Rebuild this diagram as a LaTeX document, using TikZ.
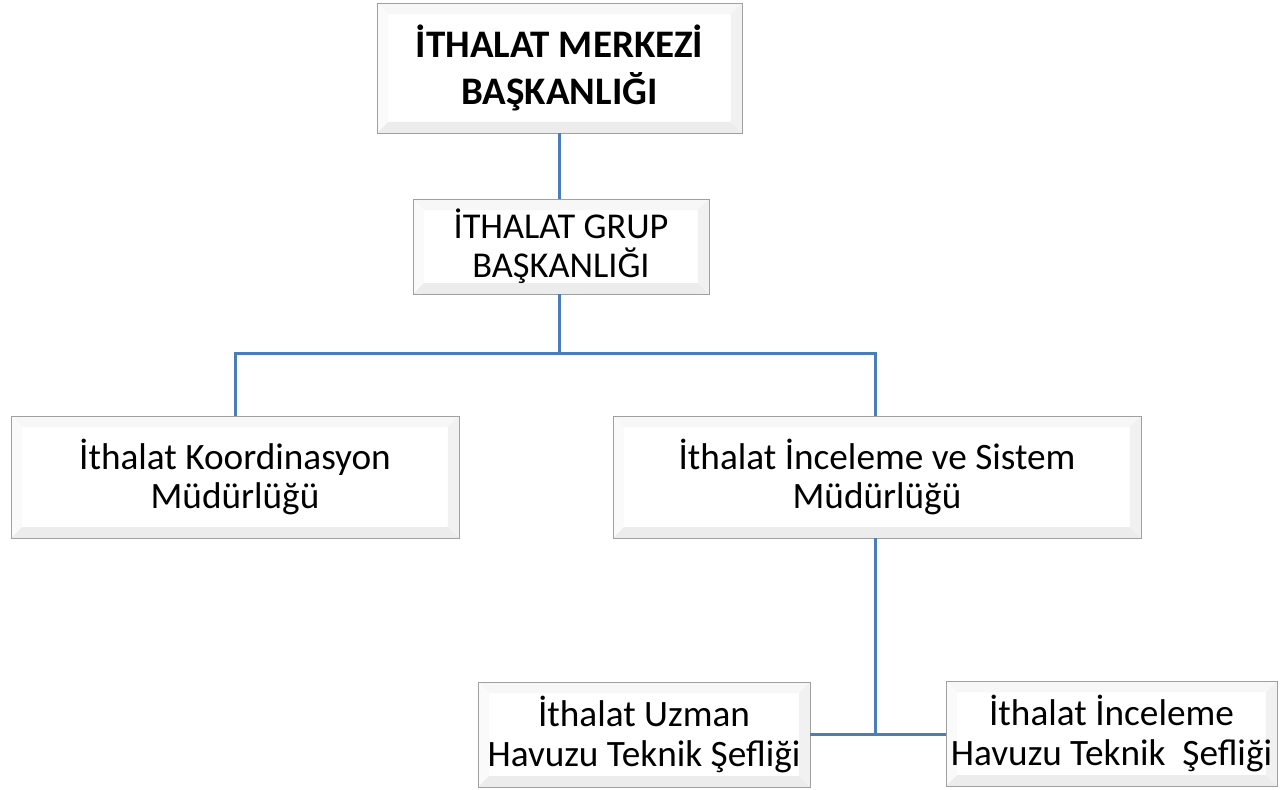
\documentclass[tikz,border=0pt]{standalone}
\usepackage{fontspec}
\setmainfont{Carlito}
\usetikzlibrary{positioning, calc}

\definecolor{linkblue}{HTML}{4A7EBB}
\definecolor{boxline}{HTML}{A0A0A0}

\tikzset{
    unit/.style = {draw = boxline, fill = white, align = center, inner sep = 0pt,
        font = \fontsize{21.2}{22.5}\selectfont,
        path picture = {
            \coordinate (pa) at (path picture bounding box.north west);
            \coordinate (pb) at (path picture bounding box.south east);
            \fill[gray!6] (pa) -- (pa -| pb) -- ($(pa -| pb) + (-0.22cm, -0.22cm)$) -- ($(pa) + (0.22cm, -0.22cm)$) -- cycle;
            \fill[gray!4] (pa) -- (pa |- pb) -- ($(pa |- pb) + (0.22cm, 0.22cm)$) -- ($(pa) + (0.22cm, -0.22cm)$) -- cycle;
            \fill[gray!11] (pa -| pb) -- (pb) -- ($(pb) + (-0.22cm, 0.22cm)$) -- ($(pa -| pb) + (-0.22cm, -0.22cm)$) -- cycle;
            \fill[gray!15] (pa |- pb) -- (pb) -- ($(pb) + (-0.22cm, 0.22cm)$) -- ($(pa |- pb) + (0.22cm, 0.22cm)$) -- cycle;
        }},
    link/.style = {draw = linkblue, line width = 0.06cm}
}

\begin{document}
\begin{tikzpicture} [x = 0.02cm, y = -0.02cm]
    \useasboundingbox (0, 0) rectangle (1281, 789);

    \node (merkez) [unit, minimum width = 7.3cm, minimum height = 2.6cm,
        font = \fontsize{22.2}{26.7}\selectfont\bfseries] at (559.5, 68)
        {İTHALAT MERKEZİ\\BAŞKANLIĞI};
    \node (grup) [unit, minimum width = 5.92cm, minimum height = 1.9cm,
        font = \fontsize{20.7}{22.2}\selectfont] at (561, 246.5)
        {İTHALAT GRUP\\BAŞKANLIĞI};
    \node (koord) [unit, minimum width = 8.96cm, minimum height = 2.44cm] at (235, 477)
        {İthalat Koordinasyon\\Müdürlüğü};
    \node (sistem) [unit, minimum width = 10.56cm, minimum height = 2.44cm] at (877, 477)
        {İthalat İnceleme ve Sistem\\Müdürlüğü};
    \node (uzman) [unit, minimum width = 6.64cm, minimum height = 2.1cm] at (644, 734.5)
        {İthalat Uzman\\Havuzu Teknik Şefliği};
    \node (havuz) [unit, minimum width = 6.62cm, minimum height = 2.1cm] at (1111.5, 733.5)
        {İthalat İnceleme\\Havuzu Teknik~ Şefliği};

    \coordinate (j1) at (559, 353);
    \coordinate (j2) at (875, 734);

    \path [link]
        (merkez.south -| j1) edge (grup.north -| j1)
        (grup.south -| j1) edge (j1)
        (sistem.south -| j2) edge (j2);
    \draw [link] (koord.north) |- (j1) -| (sistem.north -| j2);
    \draw [link] (uzman.east |- j2) -- (havuz.west |- j2);
\end{tikzpicture}
\end{document}
